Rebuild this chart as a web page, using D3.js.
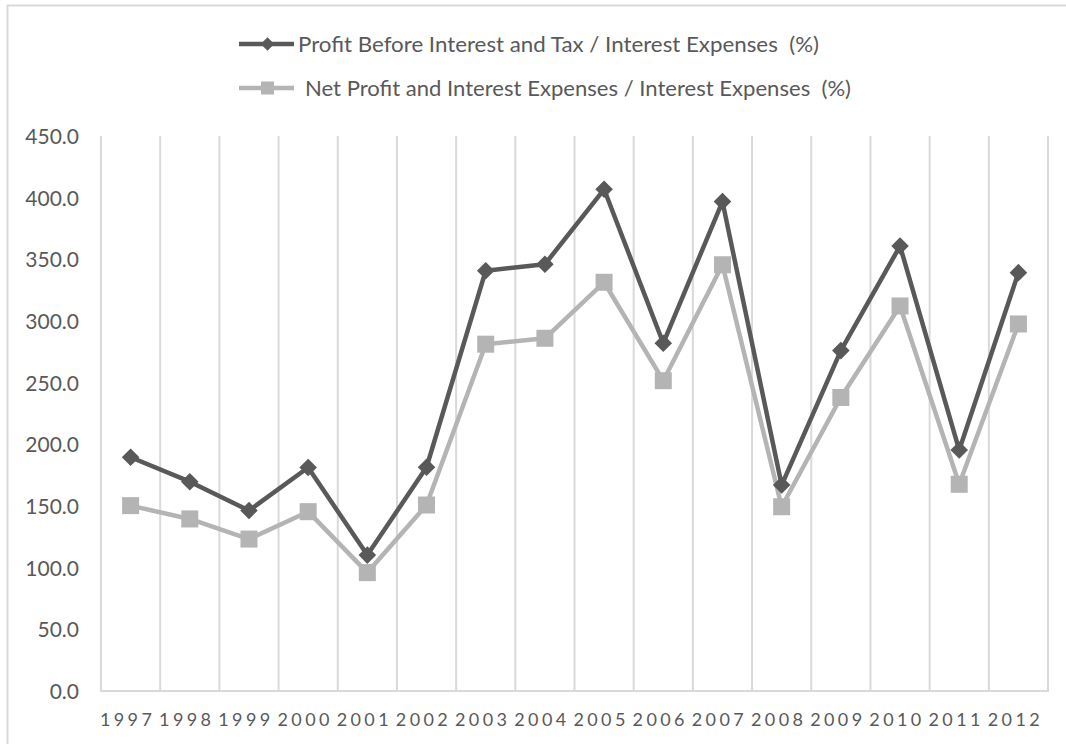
<!DOCTYPE html>
<html>
<head>
<meta charset="utf-8">
<script src="https://cdn.jsdelivr.net/npm/d3@7/dist/d3.min.js"></script>
<style>
  html, body { margin: 0; padding: 0; background: #ffffff; }
  svg { display: block; }
  text { font-family: Lato, "Open Sans", sans-serif; fill: #595959; }
  .legend-label { white-space: pre; }
</style>
</head>
<body>
<svg id="chart" width="1066" height="744"></svg>
<script>
// Years on the category axis
const years = ["1997","1998","1999","2000","2001","2002","2003","2004",
               "2005","2006","2007","2008","2009","2010","2011","2012"];

// Profit Before Interest and Tax / Interest Expenses (%)
const pbitRatio = [189.5, 169.7, 146.3, 181.2, 110.2, 181.4, 340.8, 346.0,
                   406.8, 282.0, 396.8, 167.0, 276.0, 360.8, 195.4, 339.2];

// Net Profit and Interest Expenses / Interest Expenses (%)
const netRatio = [150.3, 139.5, 123.2, 145.4, 96.0, 150.8, 281.2, 286.0,
                  331.4, 251.6, 345.6, 149.4, 238.0, 312.2, 167.6, 297.6];

// Value-axis ticks
const yTicks = [0, 50, 100, 150, 200, 250, 300, 350, 400, 450];

const seriesNames = [
  "Profit Before Interest and Tax / Interest Expenses  (%)",
  "Net Profit and Interest Expenses / Interest Expenses  (%)"
];

const darkColor = "#595959";
const lightColor = "#b4b4b4";
const gridColor = "#d9d9d9";

const svg = d3.select("#chart");

// chart-area frame
svg.append("rect")
  .attr("x", 7.5).attr("y", 5.5)
  .attr("width", 1200).attr("height", 900)
  .attr("fill", "#ffffff")
  .attr("stroke", gridColor).attr("stroke-width", 2);

const plot = { left: 101, right: 1048, top: 136, bottom: 691 };

const x = d3.scaleBand().domain(years).range([plot.left, plot.right]).padding(0);
const y = d3.scaleLinear().domain([0, 450]).range([plot.bottom, plot.top]);

// vertical gridlines at category boundaries
const g = svg.append("g");
const bounds = years.map(d => x(d)).concat([plot.right]);
g.selectAll("line.vgrid").data(bounds).enter().append("line")
  .attr("class", "vgrid")
  .attr("x1", d => d).attr("x2", d => d)
  .attr("y1", plot.top).attr("y2", plot.bottom)
  .attr("stroke", gridColor).attr("stroke-width", 2);

// category axis line
g.append("line")
  .attr("x1", plot.left - 1).attr("x2", plot.right + 1)
  .attr("y1", plot.bottom).attr("y2", plot.bottom)
  .attr("stroke", gridColor).attr("stroke-width", 2);

// value-axis labels
const yAxis = d3.axisLeft(y).tickValues(yTicks).tickFormat(d3.format(".1f")).tickSize(0).tickPadding(0);
const yG = svg.append("g").attr("transform", "translate(79,0)").call(yAxis);
yG.select(".domain").remove();
yG.selectAll("text")
  .attr("font-size", 21)
  .attr("font-family", "Lato, sans-serif")
  .attr("fill", "#595959")
  .attr("dy", "0.36em");

// category-axis labels
const xAxis = d3.axisBottom(x).tickSize(0).tickPadding(0);
const xG = svg.append("g").attr("transform", `translate(0,${plot.bottom})`).call(xAxis);
xG.select(".domain").remove();
xG.selectAll("text")
  .attr("font-size", 18)
  .attr("font-family", "Lato, sans-serif")
  .attr("fill", "#595959")
  .attr("letter-spacing", 3.4)
  .attr("dy", "0")
  .attr("y", 35)
  .attr("dx", -3);

// series lines and markers
const lineGen = d3.line().x((d, i) => x(years[i]) + x.bandwidth() / 2).y(d => y(d));

svg.append("path").datum(netRatio)
  .attr("d", lineGen).attr("fill", "none")
  .attr("stroke", lightColor).attr("stroke-width", 4.5)
  .attr("stroke-linejoin", "round");

svg.selectAll("rect.sq").data(netRatio).enter().append("rect")
  .attr("class", "sq")
  .attr("x", (d, i) => x(years[i]) + x.bandwidth() / 2 - 8.5)
  .attr("y", d => y(d) - 8.5)
  .attr("width", 17).attr("height", 17)
  .attr("fill", lightColor);

svg.append("path").datum(pbitRatio)
  .attr("d", lineGen).attr("fill", "none")
  .attr("stroke", darkColor).attr("stroke-width", 4.5)
  .attr("stroke-linejoin", "round");

const diamond = d3.symbol().type(d3.symbolSquare).size(155);
svg.selectAll("path.dm").data(pbitRatio).enter().append("path")
  .attr("class", "dm")
  .attr("d", diamond)
  .attr("transform", (d, i) => `translate(${x(years[i]) + x.bandwidth() / 2},${y(d)}) rotate(45)`)
  .attr("fill", darkColor);

// legend
const legend = svg.append("g");
const legendRows = [
  { name: seriesNames[0], color: darkColor, y: 44, marker: "diamond", textX: 298, textW: 521 },
  { name: seriesNames[1], color: lightColor, y: 88, marker: "square", textX: 305, textW: 546 }
];
legendRows.forEach(r => {
  legend.append("line")
    .attr("x1", 239).attr("x2", 294)
    .attr("y1", r.y).attr("y2", r.y)
    .attr("stroke", r.color).attr("stroke-width", 4.5);
  if (r.marker === "diamond") {
    legend.append("path")
      .attr("d", d3.symbol().type(d3.symbolSquare).size(90)())
      .attr("transform", `translate(267.5,${r.y}) rotate(45)`)
      .attr("fill", r.color);
  } else {
    legend.append("rect")
      .attr("x", 261).attr("y", r.y - 6.5)
      .attr("width", 13).attr("height", 13)
      .attr("fill", r.color);
  }
  legend.append("text")
    .attr("class", "legend-label")
    .attr("xml:space", "preserve")
    .attr("x", r.textX).attr("y", r.y)
    .attr("dy", "0.36em")
    .attr("font-size", 21)
    .attr("textLength", r.textW)
    .attr("lengthAdjust", "spacingAndGlyphs")
    .text(r.name);
});
</script>
</body>
</html>
